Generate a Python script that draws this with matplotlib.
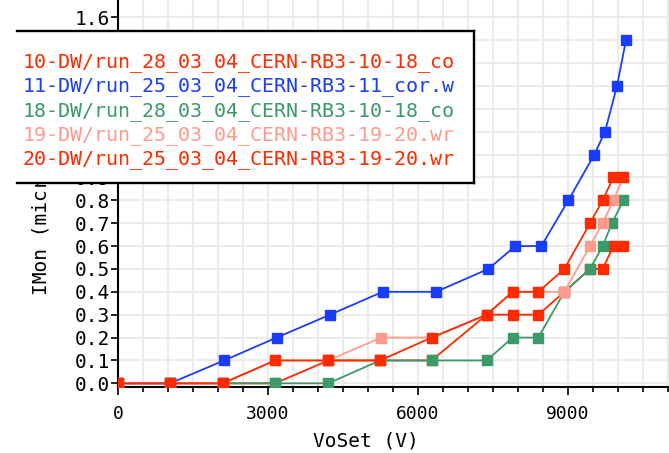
import matplotlib
matplotlib.use('Agg')
import matplotlib.pyplot as plt
from matplotlib.lines import Line2D
from matplotlib.patches import Rectangle
from matplotlib.ticker import MultipleLocator, FormatStrFormatter

# данные
v10 = [0, 1040, 2093, 3140, 4207, 5240, 6273, 7373, 7893, 8407, 8927, 9440, 9693, 9907, 10107]
i10 = [0.0, 0.0, 0.0, 0.0, 0.1, 0.1, 0.1, 0.3, 0.3, 0.3, 0.4, 0.5, 0.5, 0.6, 0.6]

v11 = [0, 1040, 2120, 3173, 4240, 5293, 6360, 7407, 7947, 8467, 9007, 9527, 9740, 9980, 10160]
i11 = [0.0, 0.0, 0.1, 0.2, 0.3, 0.4, 0.4, 0.5, 0.6, 0.6, 0.8, 1.0, 1.1, 1.3, 1.5]

v18 = [0, 1040, 2093, 3140, 4207, 5240, 6273, 7373, 7893, 8407, 8927, 9440, 9693, 9880, 10107]
i18 = [0.0, 0.0, 0.0, 0.0, 0.0, 0.1, 0.1, 0.1, 0.2, 0.2, 0.4, 0.5, 0.6, 0.7, 0.8]

v19 = [0, 1040, 2093, 3140, 4207, 5260, 6273, 7373, 7893, 8407, 8927, 9440, 9693, 9907, 10107]
i19 = [0.0, 0.0, 0.0, 0.1, 0.1, 0.2, 0.2, 0.3, 0.4, 0.4, 0.4, 0.6, 0.7, 0.8, 0.9]

v20 = [0, 1040, 2093, 3140, 4207, 5240, 6273, 7373, 7893, 8407, 8927, 9440, 9693, 9907, 10107]
i20 = [0.0, 0.0, 0.0, 0.1, 0.1, 0.1, 0.2, 0.3, 0.4, 0.4, 0.5, 0.7, 0.8, 0.9, 0.9]

names = ['10-DW/run_28_03_04_CERN-RB3-10-18_co',
         '11-DW/run_25_03_04_CERN-RB3-11_cor.w',
         '18-DW/run_28_03_04_CERN-RB3-10-18_co',
         '19-DW/run_25_03_04_CERN-RB3-19-20.wr',
         '20-DW/run_25_03_04_CERN-RB3-19-20.wr']
colors = ['#ff2a00', '#1a3cff', '#3a9a68', '#ff9a8c', '#ff2a00']

W, H = 669, 453
mono = 'DejaVu Sans Mono'


def fx(px):
    return px / W


def fy(py):
    return 1 - py / H


fig = plt.figure(figsize=(W / 100, H / 100), dpi=100)
ax = fig.add_axes([fx(118), fy(387), 1 - fx(118), fy(0) - fy(387)])

series = [(v10, i10), (v11, i11), (v18, i18), (v19, i19), (v20, i20)]
lines = []
for (v, i), c, n in zip(series, colors, names):
    ln, = ax.plot(v, i, color=c, lw=1.3, marker='s', ms=6.5, mec=c, mfc=c, label=n, zorder=3)
    lines.append(ln)

ax.set_xlim(0, (W - 118) / 0.05)
ax.set_ylim(-0.016, 1.6 + 17.3 / 229.2)

ax.xaxis.set_major_locator(MultipleLocator(3000))
ax.xaxis.set_minor_locator(MultipleLocator(500))
ax.yaxis.set_major_locator(MultipleLocator(0.1))
ax.yaxis.set_major_formatter(FormatStrFormatter('%.1f'))
ax.grid(True, which='both', color='#ebebeb', lw=1.5, zorder=0)
ax.set_axisbelow(True)

ax.spines['top'].set_visible(False)
ax.spines['right'].set_visible(False)
ax.spines['left'].set_linewidth(1.5)
ax.spines['bottom'].set_linewidth(1.5)

ax.tick_params(axis='x', which='major', direction='out', length=6, width=1.2, pad=7, labelsize=13)
ax.tick_params(axis='x', which='minor', direction='out', length=3.5, width=1.2)
ax.tick_params(axis='y', which='major', direction='out', length=5, width=1.2, pad=1, labelsize=14)
for lab in ax.get_xticklabels() + ax.get_yticklabels():
    lab.set_family(mono)

# подписи осей
ax.text(fx(366), fy(441), 'VoSet (V)', transform=fig.transFigure, ha='center', va='center',
        family=mono, fontsize=14)
ax.text(fx(41), fy(295), 'IMon (microA)', transform=fig.transFigure, rotation=90,
        ha='center', va='bottom', family=mono, fontsize=14, zorder=3)

# рамка легенды
ax.add_patch(Rectangle((fx(17), fy(183)), fx(474) - fx(17), fy(31) - fy(183), transform=fig.transFigure,
                       facecolor='white', edgecolor='none', clip_on=False, zorder=4))
for xs, ys in [([17, 474], [31, 31]), ([474, 474], [31, 183]), ([17, 474], [183, 183])]:
    ax.add_line(Line2D([fx(x) for x in xs], [fy(y) for y in ys], transform=fig.transFigure,
                       color='black', lw=1.7, clip_on=False, zorder=4.5))

leg = ax.legend(handles=lines, loc='upper left', bbox_to_anchor=(fx(23), fy(52)),
                bbox_transform=fig.transFigure, frameon=False, handlelength=0, handletextpad=0,
                labelspacing=0.22, borderpad=0, borderaxespad=0,
                prop={'family': mono, 'size': 14.4})
leg.set_zorder(5)
for h in leg.legend_handles:
    h.set_visible(False)
for t, c in zip(leg.get_texts(), colors):
    t.set_color(c)

fig.savefig('out.png', dpi=100)
